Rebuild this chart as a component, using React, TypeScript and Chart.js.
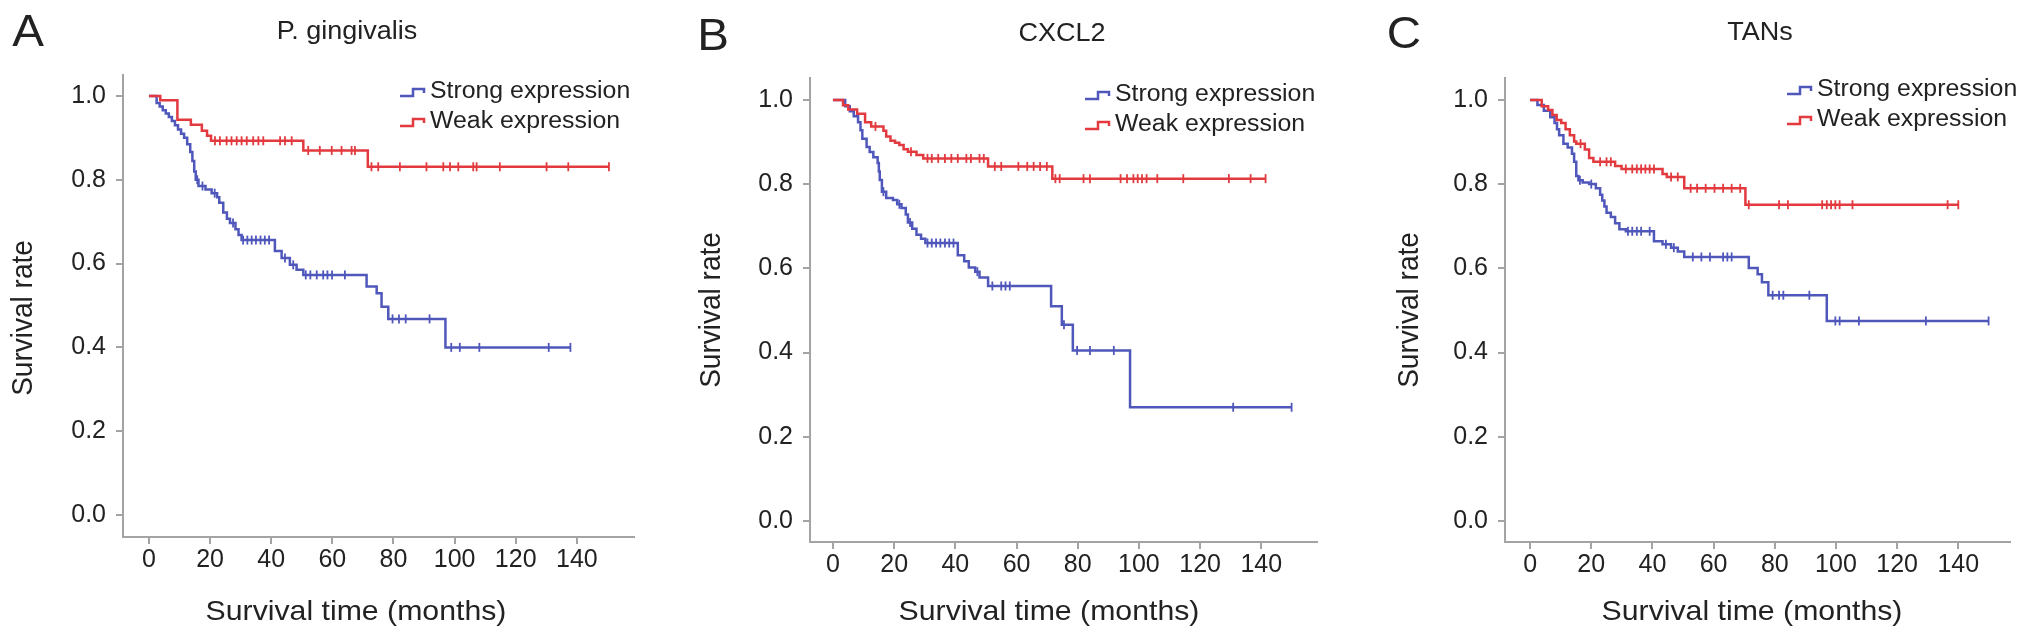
import React, { useEffect, useRef } from "react";
import { Chart, registerables } from "chart.js";

Chart.register(...registerables);

// ---------------- data ----------------
const xTickValues = [0, 20, 40, 60, 80, 100, 120, 140];
const yTickValues = [0, 0.2, 0.4, 0.6, 0.8, 1.0];
const seriesLabels = ["Strong expression", "Weak expression"];
const panelLetters = ["A", "B", "C"];
const panelTitles = ["P. gingivalis", "CXCL2", "TANs"];
const xAxisTitle = "Survival time (months)";
const yAxisTitle = "Survival rate";

// [months, survival rate, censored (1) / event (0)]
type Row = [number, number, number];

const pgStrong: Row[] = [
  [0, 1, 0], [2.5, 0.983, 0], [3.5, 0.975, 0], [4.5, 0.966, 0], [5.5, 0.958, 0], [6.5, 0.95, 0],
  [7.5, 0.94, 0], [8.5, 0.93, 0], [9.5, 0.92, 0], [10.5, 0.91, 0], [11.5, 0.9, 0], [12.5, 0.885, 0],
  [13.5, 0.866, 0], [14.2, 0.845, 0], [14.8, 0.82, 0], [15.3, 0.8, 0], [15.8, 0.8, 1], [16.2, 0.785, 0],
  [17.5, 0.785, 1], [18.5, 0.777, 0], [20.5, 0.768, 0], [21.5, 0.768, 1], [22.3, 0.758, 0], [23, 0.745, 0],
  [24.3, 0.722, 0], [25.5, 0.707, 0], [26.5, 0.697, 0], [27.5, 0.697, 1], [28.3, 0.682, 0], [29.3, 0.668, 0],
  [30.3, 0.656, 0], [30.8, 0.656, 1], [32.2, 0.656, 1], [33.6, 0.656, 1], [35, 0.656, 1], [36.5, 0.656, 1],
  [37.9, 0.656, 1], [39.3, 0.656, 1], [41.2, 0.63, 0], [43.4, 0.613, 0], [44.5, 0.613, 1], [46.1, 0.597, 0],
  [47.2, 0.597, 1], [48.3, 0.585, 0], [50.5, 0.573, 0], [51.3, 0.573, 1], [52.8, 0.573, 1], [54.9, 0.573, 1],
  [57, 0.573, 1], [58.4, 0.573, 1], [59.9, 0.573, 1], [64.1, 0.573, 1], [71.2, 0.545, 0], [74.5, 0.529, 0],
  [76.1, 0.497, 0], [78.3, 0.468, 0], [79.7, 0.468, 1], [81.8, 0.468, 1], [84, 0.468, 1], [91.8, 0.468, 1],
  [97, 0.4, 0], [98.9, 0.4, 1], [101.7, 0.4, 1], [108.1, 0.4, 1], [130.8, 0.4, 1], [137.9, 0.4, 1],
];

const pgWeak: Row[] = [
  [0, 1, 0], [3.7, 0.99, 0], [9.3, 0.943, 0], [13.7, 0.931, 0], [17.3, 0.917, 0], [19, 0.905, 0],
  [20.3, 0.893, 0], [21.6, 0.893, 1], [23.2, 0.893, 1], [25.4, 0.893, 1], [27, 0.893, 1], [28.7, 0.893, 1],
  [30.3, 0.893, 1], [32, 0.893, 1], [34.1, 0.893, 1], [35.8, 0.893, 1], [37.4, 0.893, 1], [42.9, 0.893, 1],
  [44.5, 0.893, 1], [46.7, 0.893, 1], [50.5, 0.87, 0], [52.1, 0.87, 1], [55.9, 0.87, 1], [59.8, 0.87, 1],
  [63, 0.87, 1], [66.3, 0.87, 1], [67.4, 0.87, 1], [71.6, 0.831, 0], [72.8, 0.831, 1], [75, 0.831, 1],
  [82.1, 0.831, 1], [90.8, 0.831, 1], [96.3, 0.831, 1], [98.5, 0.831, 1], [101.2, 0.831, 1], [106.1, 0.831, 1],
  [107.2, 0.831, 1], [114.8, 0.831, 1], [130.1, 0.831, 1], [137.2, 0.831, 1], [150.5, 0.831, 1],
];

const cxStrong: Row[] = [
  [0, 1, 0], [4, 0.985, 0], [5.5, 0.973, 0], [6.8, 0.961, 0], [8.2, 0.947, 0], [9, 0.928, 0],
  [9.6, 0.908, 0], [11, 0.888, 0], [12, 0.876, 0], [13.2, 0.864, 0], [14.6, 0.85, 0], [15, 0.83, 0],
  [15.3, 0.81, 0], [16, 0.782, 0], [16.5, 0.782, 1], [17.4, 0.767, 0], [19.6, 0.762, 0], [21, 0.752, 0],
  [21.7, 0.752, 1], [22.4, 0.743, 0], [23.8, 0.728, 0], [24.5, 0.709, 0], [25.2, 0.709, 1], [25.9, 0.694, 0],
  [27.3, 0.68, 0], [28.8, 0.67, 0], [30.2, 0.66, 0], [30.9, 0.66, 1], [32.3, 0.66, 1], [33.7, 0.66, 1],
  [35.1, 0.66, 1], [36.6, 0.66, 1], [38, 0.66, 1], [39.4, 0.66, 1], [40.8, 0.631, 0], [42.9, 0.617, 0],
  [44.4, 0.602, 0], [46.5, 0.592, 0], [47.2, 0.592, 1], [47.9, 0.578, 0], [50.7, 0.558, 0], [52.1, 0.558, 1],
  [55, 0.558, 1], [56.4, 0.558, 1], [57.8, 0.558, 1], [71.3, 0.51, 0], [74.8, 0.466, 0], [75.5, 0.466, 1],
  [78.4, 0.405, 0], [79.8, 0.405, 1], [84, 0.405, 1], [91.8, 0.405, 1], [97.1, 0.27, 0], [130.8, 0.27, 1],
  [149.9, 0.27, 1],
];

const cxWeak: Row[] = [
  [0, 1, 0], [3.3, 0.987, 0], [5, 0.977, 0], [7.9, 0.967, 0], [10.5, 0.947, 0], [12.5, 0.937, 0],
  [13.9, 0.937, 1], [16.5, 0.927, 0], [17.4, 0.913, 0], [18.8, 0.903, 0], [20.3, 0.898, 0], [21.7, 0.893, 0],
  [23.1, 0.883, 0], [24.5, 0.877, 0], [25.5, 0.877, 1], [27.3, 0.869, 0], [29.5, 0.861, 0], [30.9, 0.861, 1],
  [32.3, 0.861, 1], [34.4, 0.861, 1], [36.6, 0.861, 1], [38.7, 0.861, 1], [40.8, 0.861, 1], [43.6, 0.861, 1],
  [45.1, 0.861, 1], [47.9, 0.861, 1], [49.3, 0.861, 1], [50.7, 0.842, 0], [52.9, 0.842, 1], [55, 0.842, 1],
  [60.6, 0.842, 1], [63.5, 0.842, 1], [65.6, 0.842, 1], [67.7, 0.842, 1], [69.9, 0.842, 1], [71.7, 0.813, 0],
  [72.7, 0.813, 1], [74.1, 0.813, 1], [81.9, 0.813, 1], [84, 0.813, 1], [94, 0.813, 1], [96.1, 0.813, 1],
  [98.2, 0.813, 1], [99.6, 0.813, 1], [101, 0.813, 1], [102.5, 0.813, 1], [106, 0.813, 1], [114.5, 0.813, 1],
  [129.4, 0.813, 1], [136.5, 0.813, 1], [141.4, 0.813, 1],
];

const tanStrong: Row[] = [
  [0, 1, 0], [2.4, 0.988, 0], [4.5, 0.974, 0], [6.6, 0.959, 0], [8, 0.945, 0], [8.8, 0.93, 0],
  [9.5, 0.916, 0], [10.9, 0.896, 0], [12.3, 0.887, 0], [13.7, 0.872, 0], [14.4, 0.853, 0], [15.1, 0.819, 0],
  [15.8, 0.809, 0], [16.3, 0.809, 1], [17.2, 0.804, 0], [19.3, 0.8, 0], [20, 0.8, 1], [21.5, 0.79, 0],
  [22.9, 0.775, 0], [23.6, 0.761, 0], [24.3, 0.747, 0], [25, 0.732, 0], [26.4, 0.722, 0], [27.8, 0.707, 0],
  [29.2, 0.693, 0], [31.3, 0.688, 0], [32, 0.688, 1], [33.4, 0.688, 1], [34.9, 0.688, 1], [36.3, 0.688, 1],
  [39.1, 0.688, 1], [40.5, 0.664, 0], [43.3, 0.657, 0], [44.4, 0.657, 1], [46.1, 0.649, 0], [47, 0.649, 1],
  [48.3, 0.64, 0], [50.4, 0.627, 0], [53.2, 0.627, 1], [56, 0.627, 1], [58.8, 0.627, 1], [63.1, 0.627, 1],
  [64.5, 0.627, 1], [65.9, 0.627, 1], [71.5, 0.601, 0], [74.4, 0.586, 0], [75.8, 0.567, 0], [77.9, 0.536, 0],
  [79.3, 0.536, 1], [81.4, 0.536, 1], [82.8, 0.536, 1], [91.3, 0.536, 1], [97, 0.475, 0], [99.8, 0.475, 1],
  [101.2, 0.475, 1], [107.5, 0.475, 1], [129.4, 0.475, 1], [149.9, 0.475, 1],
];

const tanWeak: Row[] = [
  [0, 1, 0], [3.8, 0.985, 0], [5.9, 0.976, 0], [7.3, 0.964, 0], [8.7, 0.952, 0], [10.2, 0.945, 0],
  [11.6, 0.93, 0], [13, 0.916, 0], [14.4, 0.901, 0], [15.1, 0.896, 0], [16.5, 0.896, 1], [17.9, 0.882, 0],
  [19.3, 0.862, 0], [20.7, 0.853, 0], [22.9, 0.853, 1], [25, 0.853, 1], [26.4, 0.853, 1], [27.8, 0.843, 0],
  [29.9, 0.836, 0], [31.3, 0.836, 1], [33.4, 0.836, 1], [34.9, 0.836, 1], [36.3, 0.836, 1], [37.7, 0.836, 1],
  [39.1, 0.836, 1], [40.5, 0.836, 1], [43.3, 0.824, 0], [44.7, 0.817, 0], [46.1, 0.817, 1], [48.3, 0.817, 1],
  [50.4, 0.79, 0], [52.5, 0.79, 1], [54.6, 0.79, 1], [57.4, 0.79, 1], [60.3, 0.79, 1], [63.1, 0.79, 1],
  [65.9, 0.79, 1], [68.7, 0.79, 1], [70.4, 0.751, 0], [71.5, 0.751, 1], [81.4, 0.751, 1], [84.3, 0.751, 1],
  [95.5, 0.751, 1], [97, 0.751, 1], [98.4, 0.751, 1], [99.8, 0.751, 1], [101.2, 0.751, 1], [105.4, 0.751, 1],
  [136.5, 0.751, 1], [140, 0.751, 1],
];

const panelSeries: Row[][][] = [
  [pgStrong, pgWeak],
  [cxStrong, cxWeak],
  [tanStrong, tanWeak],
];

// ---------------- styles & layout ----------------
const COLORS = ["#5057bb", "#e23a3e"];
const FONT = "'Liberation Sans', Arial, Helvetica, sans-serif";
const TEXT = "#222222";
const AXIS = "#a3a3a3";
const STRETCH = 1.08;
const H = 640;
const Y_W = 60;
const X_H = 60;

const LAYOUT = [
  {
    left: 0, width: 677, area: { l: 123, r: 634, t: 75, b: 537 },
    xRange: [-8.5, 158.7], yRange: [-0.0525, 1.05], legend: { x: 430, y: 92 },
    letter: [27.5, 31], title: [347, 29.5], xTitle: [356, 611], yTitle: [22, 318],
  },
  {
    left: 677, width: 677, area: { l: 133, r: 640, t: 78, b: 542 },
    xRange: [-7.5, 158.2], yRange: [-0.05, 1.052], legend: { x: 438, y: 95 },
    letter: [712.5, 34.5], title: [1062, 31.5], xTitle: [1049, 611], yTitle: [710, 310],
  },
  {
    left: 1354, width: 677, area: { l: 151, r: 656, t: 78, b: 542 },
    xRange: [-8.2, 156.9], yRange: [-0.05, 1.052], legend: { x: 463, y: 90 },
    letter: [1404, 32.5], title: [1760, 31], xTitle: [1752, 611], yTitle: [1408, 310],
  },
];

const kmLegend = {
  id: "kmLegend",
  afterDraw(chart: any, _args: any, opts: any) {
    const ctx = chart.ctx;
    chart.data.datasets.forEach((ds: any, i: number) => {
      const x = opts.x;
      const y = opts.y + i * opts.gap;
      ctx.save();
      ctx.strokeStyle = ds.borderColor;
      ctx.lineWidth = 2.5;
      ctx.beginPath();
      ctx.moveTo(x - 30, y + 4);
      ctx.lineTo(x - 17, y + 4);
      ctx.lineTo(x - 17, y - 3);
      ctx.lineTo(x - 6, y - 3);
      ctx.lineTo(x - 6, y + 1);
      ctx.stroke();
      ctx.translate(x, y);
      ctx.scale(STRETCH, 1);
      ctx.fillStyle = TEXT;
      ctx.font = `23px ${FONT}`;
      ctx.textAlign = "left";
      ctx.textBaseline = "middle";
      ctx.fillText(ds.label, 0, 0);
      ctx.restore();
    });
  },
};

function Label(props: { x: number; y: number; size: number; text: string; rotate?: boolean }) {
  const { x, y, size, text, rotate } = props;
  return (
    <div
      style={{
        position: "absolute",
        left: x,
        top: y,
        transform: `translate(-50%, -50%) scaleX(${STRETCH})${rotate ? " rotate(-90deg)" : ""}`,
        fontFamily: FONT,
        fontSize: size,
        lineHeight: 1,
        whiteSpace: "nowrap",
        color: TEXT,
      }}
    >
      {text}
    </div>
  );
}

function Panel({ idx }: { idx: number }) {
  const ref = useRef<HTMLCanvasElement>(null);
  const L = LAYOUT[idx];

  useEffect(() => {
    if (!ref.current) return;
    const series = panelSeries[idx];
    const datasets = series.map((rows, s) => ({
      label: seriesLabels[s],
      data: rows.map((r) => ({ x: r[0], y: r[1] })),
      borderColor: COLORS[s],
      backgroundColor: COLORS[s],
      borderWidth: 2.5,
      stepped: true,
      fill: false,
      order: s === 0 ? 1 : 0,
      pointStyle: "line",
      pointRotation: 90,
      pointRadius: (c: any) => (rows[c.dataIndex] && rows[c.dataIndex][2] ? 4.5 : 0),
      pointBorderWidth: 1.8,
      pointBorderColor: COLORS[s],
      pointHoverRadius: 0,
      pointHitRadius: 0,
    }));

    const tickFont = { family: FONT, size: 25 };
    const chart = new Chart(ref.current, {
      type: "line",
      data: { datasets: datasets as any },
      options: {
        animation: false,
        responsive: false,
        maintainAspectRatio: false,
        events: [],
        layout: {
          padding: {
            left: L.area.l - Y_W,
            right: L.width - L.area.r,
            top: L.area.t,
            bottom: H - L.area.b - X_H,
          },
        },
        plugins: {
          legend: { display: false },
          tooltip: { enabled: false },
          title: { display: false },
          kmLegend: { x: L.legend.x, y: L.legend.y, gap: 30 },
        } as any,
        scales: {
          x: {
            type: "linear",
            min: L.xRange[0],
            max: L.xRange[1],
            afterFit: (sc: any) => {
              sc.height = X_H;
            },
            afterBuildTicks: (sc: any) => {
              sc.ticks = xTickValues.map((v) => ({ value: v }));
            },
            grid: { display: true, drawOnChartArea: false, drawTicks: true, tickLength: 7, color: AXIS, lineWidth: 2 },
            border: { display: true, color: AXIS, width: 2 },
            ticks: { color: TEXT, font: tickFont, padding: 1, maxRotation: 0, autoSkip: false, callback: (v: any) => String(v) },
          },
          y: {
            type: "linear",
            min: L.yRange[0],
            max: L.yRange[1],
            afterFit: (sc: any) => {
              sc.width = Y_W;
            },
            afterBuildTicks: (sc: any) => {
              sc.ticks = yTickValues.map((v) => ({ value: v }));
            },
            grid: { display: true, drawOnChartArea: false, drawTicks: true, tickLength: 7, color: AXIS, lineWidth: 2 },
            border: { display: true, color: AXIS, width: 2 },
            ticks: { color: TEXT, font: tickFont, padding: 10, autoSkip: false, callback: (v: any) => Number(v).toFixed(1) },
          },
        },
      },
      plugins: [kmLegend],
    });
    return () => chart.destroy();
  }, [idx]);

  return (
    <>
      <canvas
        ref={ref}
        width={L.width}
        height={H}
        style={{ position: "absolute", left: L.left, top: 0, width: L.width, height: H }}
      />
      <Label x={L.letter[0]} y={L.letter[1]} size={44} text={panelLetters[idx]} />
      <Label x={L.title[0]} y={L.title[1]} size={25} text={panelTitles[idx]} />
      <Label x={L.xTitle[0]} y={L.xTitle[1]} size={28} text={xAxisTitle} />
      <Label x={L.yTitle[0]} y={L.yTitle[1]} size={28} text={yAxisTitle} rotate />
    </>
  );
}

export default function App() {
  return (
    <div
      style={{
        position: "absolute",
        left: 0,
        top: 0,
        width: 2031,
        height: H,
        background: "#ffffff",
        overflow: "hidden",
      }}
    >
      {LAYOUT.map((_, i) => (
        <Panel key={i} idx={i} />
      ))}
    </div>
  );
}
